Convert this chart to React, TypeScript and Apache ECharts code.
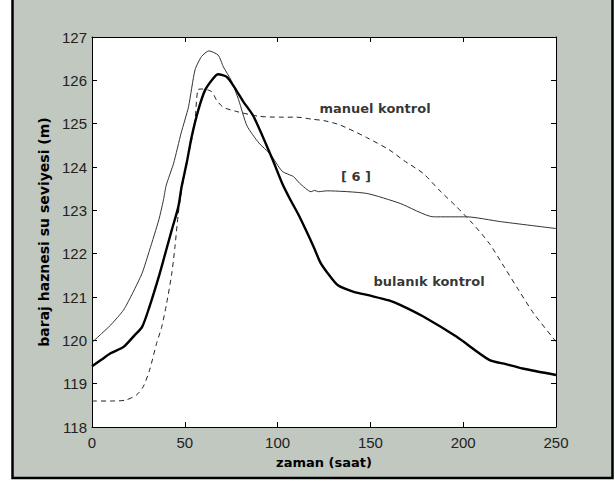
import React, { useEffect, useRef } from "react";
import * as echarts from "echarts";

// bulanık kontrol (thick line)
const fuzzyX = [0, 5, 10, 17, 23, 27, 31, 36, 39, 43, 46.5, 48.3, 51, 53.7, 57.3, 61, 65.4, 68, 72.6, 77, 81.5, 87, 97, 102.5, 106.8, 111, 115.3, 119.5, 123, 127, 132.5, 141, 150, 160, 166, 178.5, 196.5, 214, 223, 232, 250];
const fuzzyY = [119.4, 119.55, 119.7, 119.85, 120.12, 120.31, 120.78, 121.47, 121.93, 122.55, 123.08, 123.55, 124.09, 124.7, 125.32, 125.78, 126.05, 126.14, 126.08, 125.82, 125.51, 125.17, 124.2, 123.62, 123.25, 122.92, 122.54, 122.15, 121.8, 121.55, 121.27, 121.12, 121.03, 120.92, 120.82, 120.55, 120.08, 119.55, 119.45, 119.35, 119.2];

// [6] (thin solid line)
const refX = [0, 5, 10, 17, 22, 27, 31, 36, 38.5, 40, 44, 48, 52, 55.5, 59, 63, 68, 70.8, 75, 79, 83.5, 90, 96, 102.5, 108.5, 112, 118, 120, 122, 126.5, 148, 166, 184, 202, 220, 250];
const refY = [119.95, 120.15, 120.35, 120.7, 121.1, 121.55, 122.08, 122.78, 123.24, 123.58, 124.09, 124.78, 125.39, 126.24, 126.55, 126.68, 126.58, 126.31, 126.0, 125.55, 124.95, 124.55, 124.3, 123.9, 123.78, 123.62, 123.43, 123.46, 123.43, 123.45, 123.39, 123.16, 122.85, 122.85, 122.74, 122.58];

// manuel kontrol (dashed line)
const manX = [0, 10, 18, 24, 27.6, 31, 34.8, 37.5, 40.2, 43, 44.7, 46.5, 48.3, 51, 53.7, 55.5, 57, 59, 64.5, 67, 70.7, 78, 90, 101, 110, 119, 125, 133.6, 148, 160, 168, 178.5, 187, 196, 205, 214, 222, 230, 238, 248.5, 250];
const manY = [118.6, 118.6, 118.62, 118.74, 118.93, 119.31, 119.93, 120.3, 120.85, 121.55, 122.16, 122.93, 123.47, 124.1, 124.62, 125.08, 125.78, 125.8, 125.74, 125.55, 125.38, 125.28, 125.17, 125.15, 125.15, 125.1, 125.07, 124.97, 124.68, 124.4, 124.15, 123.85, 123.47, 123.1, 122.7, 122.24, 121.7, 121.15, 120.62, 120.05, 119.97];

// annotations
const labelNames = ["manuel kontrol", "[ 6 ]", "bulanık kontrol"];
const labelX = [152.5, 142.2, 181.6];
const labelY = [125.36, 123.77, 121.35];

const xMin = 0, xMax = 250, xStep = 50;
const yMin = 118, yMax = 127, yStep = 1;

const zip = (xs: number[], ys: number[]) => xs.map((x, i) => [x, ys[i]]);

const tickFont = { color: "#222", fontSize: 15, fontFamily: "Liberation Sans, Arial, sans-serif" };
const nameFont = { color: "#000", fontWeight: "bold" as const, fontFamily: "DejaVu Sans, Verdana, sans-serif" };

export default function App() {
  const ref = useRef<HTMLDivElement>(null);
  useEffect(() => {
    const chart = echarts.init(ref.current!, null, { renderer: "svg" });
    chart.setOption({
      animation: false,
      backgroundColor: "#ffffff",
      graphic: [
        {
          type: "rect",
          z: -10,
          shape: { x: 12.5, y: -5, width: 600, height: 483 },
          style: { fill: "#c1c8c0", stroke: "#000", lineWidth: 2.5 },
        },
      ],
      grid: {
        left: 92,
        right: 59,
        top: 37,
        bottom: 57,
        show: true,
        backgroundColor: "#ffffff",
        borderWidth: 0,
      },
      xAxis: [
        {
          type: "value",
          min: xMin,
          max: xMax,
          interval: xStep,
          position: "bottom",
          axisLine: { show: true, onZero: false, lineStyle: { color: "#000", width: 1 } },
          axisTick: { show: true, inside: true, length: 5, lineStyle: { color: "#000" } },
          axisLabel: { ...tickFont, margin: 8 },
          splitLine: { show: false },
          name: "zaman (saat)",
          nameLocation: "middle",
          nameGap: 29,
          nameTextStyle: { ...nameFont, fontSize: 13 },
        },
        {
          type: "value",
          min: xMin,
          max: xMax,
          interval: xStep,
          position: "top",
          axisLine: { show: true, onZero: false, lineStyle: { color: "#000", width: 1 } },
          axisTick: { show: true, inside: true, length: 5, lineStyle: { color: "#000" } },
          axisLabel: { show: false },
          splitLine: { show: false },
        },
      ],
      yAxis: [
        {
          type: "value",
          min: yMin,
          max: yMax,
          interval: yStep,
          position: "left",
          axisLine: { show: true, onZero: false, lineStyle: { color: "#000", width: 1 } },
          axisTick: { show: true, inside: true, length: 5, lineStyle: { color: "#000" } },
          axisLabel: { ...tickFont, margin: 5 },
          splitLine: { show: false },
          name: "baraj haznesi su seviyesi (m)",
          nameLocation: "middle",
          nameGap: 35,
          nameTextStyle: { ...nameFont, fontSize: 14 },
        },
        {
          type: "value",
          min: yMin,
          max: yMax,
          interval: yStep,
          position: "right",
          axisLine: { show: true, onZero: false, lineStyle: { color: "#000", width: 1 } },
          axisTick: { show: true, inside: true, length: 5, lineStyle: { color: "#000" } },
          axisLabel: { show: false },
          splitLine: { show: false },
        },
      ],
      series: [
        {
          name: "manuel kontrol",
          type: "line",
          data: zip(manX, manY),
          showSymbol: false,
          smooth: 0.25,
          lineStyle: { color: "#222", width: 1, type: [5, 4] },
        },
        {
          name: "[6]",
          type: "line",
          data: zip(refX, refY),
          showSymbol: false,
          smooth: 0.2,
          lineStyle: { color: "#333", width: 1 },
        },
        {
          name: "bulanık kontrol",
          type: "line",
          data: zip(fuzzyX, fuzzyY),
          showSymbol: false,
          smooth: 0.25,
          lineStyle: { color: "#000", width: 2.4 },
        },
        {
          name: "labels",
          type: "scatter",
          symbolSize: 0,
          data: labelNames.map((n, i) => ({ name: n, value: [labelX[i], labelY[i]] })),
          label: {
            show: true,
            position: "inside",
            formatter: "{b}",
            ...nameFont,
            fontSize: 13,
          },
        },
      ],
    });
    return () => chart.dispose();
  }, []);
  return (
    <div
      ref={ref}
      style={{ position: "fixed", left: 0, top: 0, width: 615, height: 484, background: "#fff" }}
    />
  );
}
